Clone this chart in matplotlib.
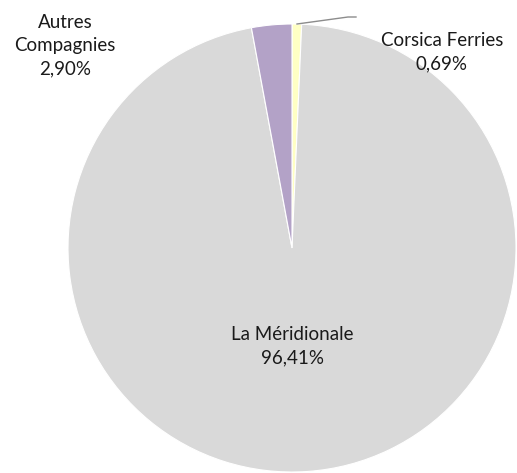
import matplotlib.pyplot as plt

# données (ordre horaire depuis le haut)
compagnies = ["Corsica Ferries", "La Méridionale", "Autres\nCompagnies"]
parts = [0.69, 96.41, 2.90]
couleurs = ["#FFFFC4", "#D9D9D9", "#B3A2C7"]
etiquettes = ["0,69%", "96,41%", "2,90%"]

W, H = 517, 473
fig = plt.figure(figsize=(W / 100, H / 100), dpi=100)
ax = fig.add_axes([0, 0, 1, 1])

cx, cy, r = 292, H - 248, 224
ax.pie(parts, colors=couleurs, startangle=90, counterclock=False,
       center=(cx, cy), radius=r, frame=True,
       wedgeprops=dict(edgecolor="white", linewidth=0.8))
ax.set_xlim(0, W)
ax.set_ylim(0, H)
ax.set_aspect("equal")
ax.axis("off")

police = dict(fontsize=13.5, family="Lato", color="#1a1a1a", ha="center", va="center",
              linespacing=1.45)
pos = [(442, 52), (292, 346), (65, 46)]
for nom, lab, (x, y) in zip(compagnies, etiquettes, pos):
    ax.text(x, H - y, f"{nom}\n{lab}", **police)

# ligne de rappel pour Corsica Ferries
ax.plot([297, 348, 356], [H - 24, H - 17, H - 17], color="#8C8C8C", linewidth=1)

fig.savefig("out.png", dpi=100)
